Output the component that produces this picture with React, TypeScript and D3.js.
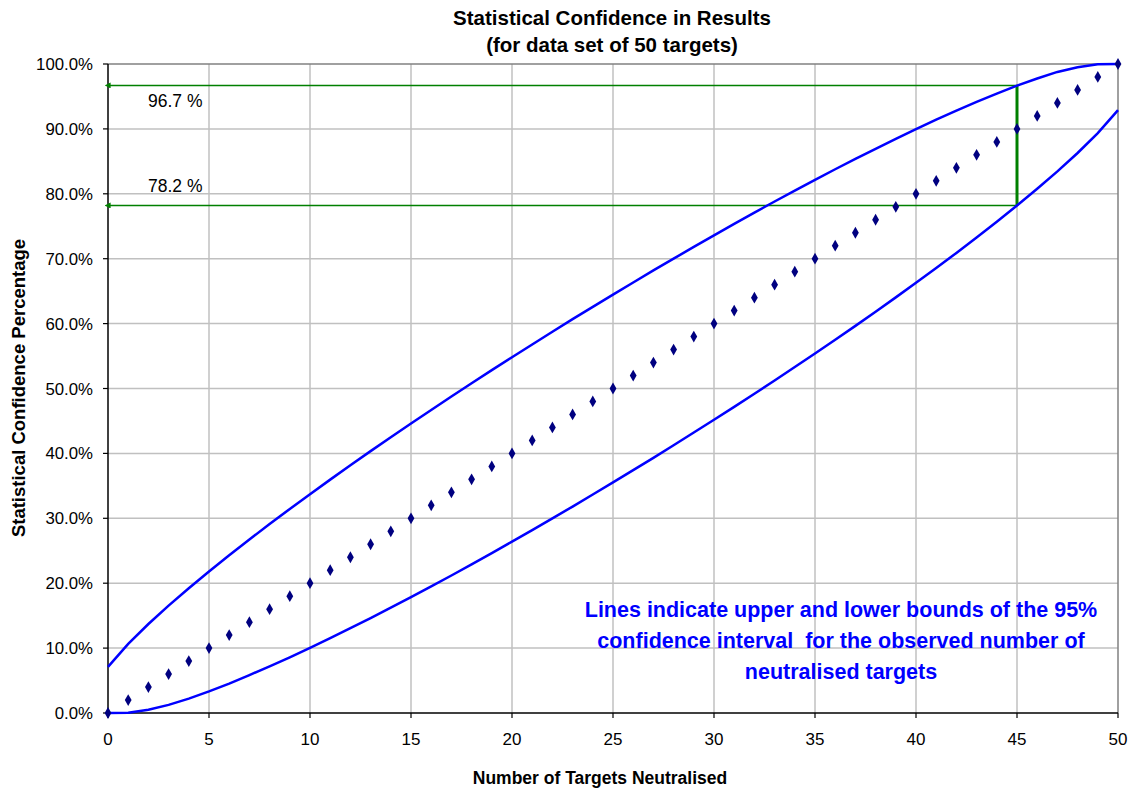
import React from "react";
import * as d3 from "d3";

const targets: number[] = d3.range(0, 51);
const upperBound: number[] = [
  7.11, 10.65, 13.71, 16.55, 19.23, 21.81, 24.31, 26.74, 29.11, 31.44,
  33.72, 35.96, 38.17, 40.35, 42.49, 44.61, 46.70, 48.77, 50.81, 52.83,
  54.82, 56.79, 58.75, 60.68, 62.58, 64.47, 66.34, 68.19, 70.01, 71.81,
  73.60, 75.36, 77.10, 78.81, 80.50, 82.14, 83.78, 85.38, 86.94, 88.47,
  89.97, 91.42, 92.81, 94.15, 95.43, 96.67, 97.77, 98.78, 99.51, 99.95, 100,
];
const lowerBound: number[] = [
  0, 0.05, 0.49, 1.25, 2.22, 3.33, 4.53, 5.85, 7.19, 8.58,
  10.03, 11.53, 13.06, 14.62, 16.22, 17.86, 19.50, 21.19, 22.90, 24.64,
  26.40, 28.19, 29.99, 31.81, 33.66, 35.53, 37.42, 39.32, 41.25, 43.21,
  45.18, 47.17, 49.19, 51.23, 53.30, 55.39, 57.51, 59.65, 61.83, 64.04,
  66.28, 68.56, 70.89, 73.26, 75.69, 78.19, 80.77, 83.45, 86.29, 89.35, 92.89,
];
const observed: number[] = [
  0, 2, 4, 6, 8, 10, 12, 14, 16, 18, 20, 22, 24, 26, 28, 30, 32, 34, 36, 38,
  40, 42, 44, 46, 48, 50, 52, 54, 56, 58, 60, 62, 64, 66, 68, 70, 72, 74, 76, 78,
  80, 82, 84, 86, 88, 90, 92, 94, 96, 98, 100,
];
const xTicks: number[] = [0, 5, 10, 15, 20, 25, 30, 35, 40, 45, 50];
const yTicks: number[] = [0, 10, 20, 30, 40, 50, 60, 70, 80, 90, 100];
const markerX = 45;
const markerUpper = 96.7;
const markerLower = 78.2;
const titleLines = ["Statistical Confidence in Results", "(for data set of 50 targets)"];
const noteLines = [
  "Lines indicate upper and lower bounds of the 95%",
  "confidence interval  for the observed number of",
  "neutralised targets",
];

export default function App() {
  const W = 1129, H = 790;
  const left = 108, right = 1118, top = 64, bottom = 713;
  const x = d3.scaleLinear().domain([0, 50]).range([left, right]);
  const y = d3.scaleLinear().domain([0, 100]).range([bottom, top]);
  const line = d3.line<number>().x((_, i) => x(targets[i])).y((d) => y(d));
  const font = "'Liberation Sans', Arial, sans-serif";
  const diamond = d3.symbol().type(d3.symbolDiamond).size(40)();
  const green = "#008000";
  const blue = "#0000FF";

  return (
    <svg width={W} height={H} style={{ position: "absolute", left: 0, top: 0, background: "#fff" }} fontFamily={font}>
      <defs>
        <marker id="arr" viewBox="0 0 10 10" refX="1" refY="5" markerWidth="4" markerHeight="4" orient="auto-start-reverse">
          <path d="M0,0 L10,5 L0,10 z" fill={green} />
        </marker>
      </defs>
      {/* grid */}
      {xTicks.filter((t) => t > 0 && t < 50).map((t) => (
        <line key={"gx" + t} x1={x(t)} x2={x(t)} y1={top} y2={bottom} stroke="#c0c0c0" strokeWidth={1.5} />
      ))}
      {yTicks.filter((t) => t > 0 && t < 100).map((t) => (
        <line key={"gy" + t} x1={left} x2={right} y1={y(t)} y2={y(t)} stroke="#c0c0c0" strokeWidth={1.5} />
      ))}
      {/* border */}
      <line x1={left} x2={right} y1={top} y2={top} stroke="#808080" strokeWidth={1.5} />
      <line x1={right} x2={right} y1={top} y2={bottom} stroke="#808080" strokeWidth={1.5} />
      {/* axes */}
      <line x1={left} x2={right} y1={bottom} y2={bottom} stroke="#000" strokeWidth={1.5} />
      <line x1={left} x2={left} y1={top} y2={bottom} stroke="#000" strokeWidth={1.5} />
      {xTicks.map((t) => (
        <g key={"xt" + t}>
          <line x1={x(t)} x2={x(t)} y1={bottom} y2={bottom + 5} stroke="#000" strokeWidth={1.2} />
          <text x={x(t)} y={745} textAnchor="middle" fontSize={17} fill="#000">{t}</text>
        </g>
      ))}
      {yTicks.map((t) => (
        <g key={"yt" + t}>
          <line x1={left - 5} x2={left} y1={y(t)} y2={y(t)} stroke="#000" strokeWidth={1.2} />
          <text x={93} y={y(t) + 6} textAnchor="end" fontSize={16.8} fill="#000">{t.toFixed(1)}%</text>
        </g>
      ))}
      {/* green marker lines */}
      <line x1={x(markerX)} x2={left + 2} y1={y(markerUpper)} y2={y(markerUpper)} stroke={green} strokeWidth={1.5} markerEnd="url(#arr)" />
      <line x1={x(markerX)} x2={left + 2} y1={y(markerLower)} y2={y(markerLower)} stroke={green} strokeWidth={1.5} markerEnd="url(#arr)" />
      <line x1={x(markerX)} x2={x(markerX)} y1={y(markerUpper)} y2={y(markerLower)} stroke={green} strokeWidth={3} />
      <text x={148} y={y(markerUpper) + 22} fontSize={17.5} fill="#000">{markerUpper.toFixed(1)} %</text>
      <text x={148} y={y(markerLower) - 13} fontSize={17.5} fill="#000">{markerLower.toFixed(1)} %</text>
      {/* bounds */}
      <path d={line(upperBound) || ""} fill="none" stroke={blue} strokeWidth={2.5} />
      <path d={line(lowerBound) || ""} fill="none" stroke={blue} strokeWidth={2.5} />
      {/* observed dots */}
      {observed.map((v, i) => (
        <path key={"d" + i} d={diamond || ""} transform={`translate(${x(targets[i])},${y(v)})`} fill="#000080" />
      ))}
      {/* titles */}
      {titleLines.map((t, i) => (
        <text key={"t" + i} x={612} y={25 + i * 27} textAnchor="middle" fontSize={20.5} fontWeight="bold" fill="#000">{t}</text>
      ))}
      <text x={600} y={784} textAnchor="middle" fontSize={17.5} fontWeight="bold" fill="#000">Number of Targets Neutralised</text>
      <text transform={`translate(25,388) rotate(-90)`} textAnchor="middle" fontSize={18.5} fontWeight="bold" fill="#000">Statistical Confidence Percentage</text>
      {noteLines.map((t, i) => (
        <text key={"n" + i} x={841} y={617 + i * 31} textAnchor="middle" fontSize={21.5} fontWeight="bold" fill={blue} style={{ whiteSpace: "pre" }}>{t}</text>
      ))}
    </svg>
  );
}
